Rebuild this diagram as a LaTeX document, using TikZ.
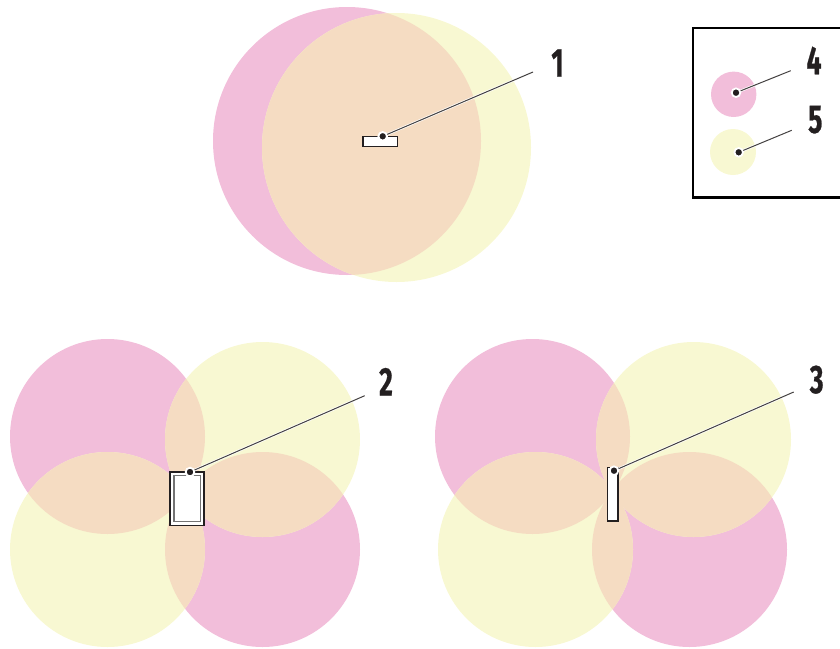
\documentclass[tikz,border=0pt]{standalone}
\usepackage{fontspec}
\newfontfamily\numfont[FakeStretch=0.66,FakeBold=0.6]{Fira Sans Bold}
\definecolor{pinkc}{HTML}{F2BEDA}
\definecolor{yellowc}{HTML}{F8F8D2}
\definecolor{peachc}{HTML}{F5DCC2}
\definecolor{inkc}{HTML}{231F20}
\tikzset{
  numlabel/.style={font=\numfont\fontsize{40}{40}\selectfont, text=inkc, inner sep=0pt, anchor=center},
  pin/.style={circle, fill=inkc, draw=white, line width=1.8pt, minimum size=8.6pt, inner sep=0pt},
  leader/.style={draw=inkc!85, line width=1pt},
  halo/.style={draw=white, line width=2.4pt},
  device/.style={draw=inkc, fill=white, line width=1.5pt},
  innerdevice/.style={draw=black!55, fill=white, line width=1.3pt}
}
\newcommand{\overlapfill}[6]{%
  \begin{scope}
    \clip (#1,#2) circle[radius=#3];
    \fill[peachc] (#4,#5) circle[radius=#6];
  \end{scope}}
\begin{document}
\begin{tikzpicture}[x=1pt,y=-1pt]
\useasboundingbox (0,0) rectangle (840,648);
% top pair
\fill[pinkc] (347,141) circle[radius=134];
\fill[yellowc] (396.5,147.5) circle[radius=134.5];
\overlapfill{347}{141}{134}{396.5}{147.5}{134.5}
% bottom left
\fill[pinkc] (107.5,436.5) circle[radius=97.5];
\fill[pinkc] (262.5,549.5) circle[radius=97.5];
\fill[yellowc] (262.5,439.5) circle[radius=97.5];
\fill[yellowc] (107.5,549.5) circle[radius=97.5];
\overlapfill{107.5}{436.5}{97.5}{262.5}{439.5}{97.5}
\overlapfill{107.5}{436.5}{97.5}{107.5}{549.5}{97.5}
\overlapfill{262.5}{549.5}{97.5}{262.5}{439.5}{97.5}
\overlapfill{262.5}{549.5}{97.5}{107.5}{549.5}{97.5}
% bottom right
\fill[pinkc] (532.5,436.5) circle[radius=97.5];
\fill[pinkc] (689.5,549.5) circle[radius=97.5];
\fill[yellowc] (693.5,439.5) circle[radius=97.5];
\fill[yellowc] (535.5,549.5) circle[radius=97.5];
\overlapfill{532.5}{436.5}{97.5}{693.5}{439.5}{97.5}
\overlapfill{532.5}{436.5}{97.5}{535.5}{549.5}{97.5}
\overlapfill{689.5}{549.5}{97.5}{693.5}{439.5}{97.5}
\overlapfill{689.5}{549.5}{97.5}{535.5}{549.5}{97.5}
% legend: open at the right edge
\draw[black, line width=2.4pt] (841,28) -- (693,28) -- (693,197.5) -- (841,197.5);
\fill[pinkc] (733.7,94.3) circle[radius=22.7];
\fill[yellowc] (733,152) circle[radius=23];
% devices
\draw[device] (363,136.5) rectangle (397.5,146.5);
\draw[device] (170.2,472) rectangle (204,525.7);
\draw[innerdevice] (174,475.5) rectangle (200.7,521.5);
\draw[device] (607.7,467.7) rectangle (618,521);
% pins and endpoints
\coordinate (e1) at (533,72);
\coordinate (e2) at (364.7,395.7);
\coordinate (e3) at (793.7,392);
\coordinate (e4) at (790.7,70.7);
\coordinate (e5) at (791.7,130.3);
\path (382.7,136.3) coordinate (c1) (190,472) coordinate (c2) (614,470.7) coordinate (c3) (736,92.7) coordinate (c4) (738.7,152.3) coordinate (c5);
\foreach \i in {1,...,5} {
  \draw[halo] (c\i) -- (e\i);
  \draw[leader] (c\i) -- (e\i);
  \node[pin] (p\i) at (c\i) {};
}
% labels
\node[numlabel] (n1) at (557.5,63) {1};
\node[numlabel] (n2) at (386,381.7) {2};
\node[numlabel] (n3) at (816.7,379.7) {3};
\node[numlabel] (n4) at (814,60.5) {4};
\node[numlabel] (n5) at (815.3,119.7) {5};
\end{tikzpicture}
\end{document}
